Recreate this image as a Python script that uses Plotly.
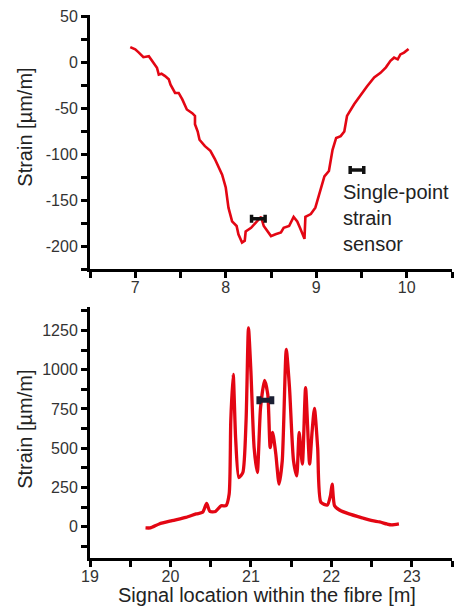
import plotly.graph_objects as go
from plotly.subplots import make_subplots

# Top panel: strain profile around 7-10 m
top_x = [6.945, 7.0, 7.04, 7.09, 7.15, 7.2, 7.24, 7.26, 7.29, 7.33, 7.37, 7.39, 7.44, 7.48,
         7.52, 7.57, 7.63, 7.66, 7.66, 7.69, 7.71, 7.77, 7.83, 7.88, 7.96, 8.0, 8.03, 8.07,
         8.12, 8.14, 8.18, 8.21, 8.22, 8.28, 8.33, 8.39, 8.42, 8.46, 8.50, 8.55, 8.61, 8.64,
         8.70, 8.75, 8.79, 8.82, 8.85, 8.87, 8.88, 8.94, 8.99, 9.05, 9.09, 9.14, 9.18, 9.22,
         9.27, 9.31, 9.34, 9.42, 9.49, 9.56, 9.64, 9.71, 9.77, 9.82, 9.86, 9.90, 9.93, 9.97, 10.02]
top_y = [17, 14.5, 11, 6, 7, 0, -5.5, -13, -12, -14.6, -18, -24, -33, -33,
         -40, -51, -55, -58, -67, -75, -84, -91, -96, -105, -122, -136, -158, -173,
         -178, -187, -196, -194, -184, -180, -174, -168, -178, -184, -189, -187, -185, -180,
         -178, -168, -173, -180, -187, -192, -168, -165, -158, -136, -124, -118, -95, -82,
         -80, -75, -58, -45, -35, -26, -16, -11, -5, 2, 5.5, 3.6, 9, 11, 15]

# Bottom panel: strain profile around 19.7-22.9 m
bot_x = [19.69, 19.75, 19.86, 20.02, 20.19, 20.32, 20.40, 20.45, 20.49, 20.56, 20.63, 20.69,
         20.73, 20.75, 20.78, 20.81, 20.85, 20.90, 20.94, 20.97, 21.00, 21.04, 21.08, 21.12,
         21.17, 21.21, 21.24, 21.27, 21.31, 21.35, 21.39, 21.44, 21.48, 21.53, 21.57, 21.60,
         21.64, 21.68, 21.73, 21.76, 21.79, 21.83, 21.87, 21.95, 21.99, 22.01, 22.04, 22.10,
         22.22, 22.39, 22.51, 22.60, 22.69, 22.75, 22.84]
bot_y = [-8, -8, 17, 38, 59, 81, 91, 148, 97, 97, 133, 133,
         208, 674, 971, 568, 313, 345, 674, 1267, 992, 504, 345, 758,
         932, 843, 504, 600, 462, 271, 420, 1130, 886, 420, 324, 600,
         399, 886, 399, 600, 754, 504, 155, 138, 200, 271, 133, 106,
         81, 55, 38, 30, 17, 11, 17]

# Tick labels
top_xticks = [7, 8, 9, 10]
top_yticks = [-200, -150, -100, -50, 0, 50]
bot_xticks = [19, 20, 21, 22, 23]
bot_yticks = [0, 250, 500, 750, 1000, 1250]

# Single-point strain sensor readings
sens_top_x = [8.36, 9.45]
sens_top_y = [-170, -117]
sens_bot_x = [21.18]
sens_bot_y = [805]
sens_err_top = [0.075, 0.075]
sens_err_bot = [0.08]

RED = "#e30613"
FONT = "Liberation Sans, Arial, sans-serif"

fig = make_subplots(rows=2, cols=1, vertical_spacing=0.07)
fig.add_trace(go.Scatter(x=top_x, y=top_y, mode="lines",
                         line=dict(color=RED, width=2.6), showlegend=False), row=1, col=1)
fig.add_trace(go.Scatter(x=bot_x, y=bot_y, mode="lines",
                         line=dict(color=RED, width=3.3, shape="spline", smoothing=0.6),
                         showlegend=False), row=2, col=1)
fig.add_trace(go.Scatter(x=sens_top_x, y=sens_top_y, mode="markers",
                         marker=dict(size=1, color="#111"),
                         error_x=dict(type="data", array=sens_err_top, color="#111",
                                      thickness=3.5, width=4),
                         showlegend=False), row=1, col=1)
fig.add_trace(go.Scatter(x=sens_bot_x, y=sens_bot_y, mode="markers",
                         marker=dict(size=1, color="#1b1f33"),
                         error_x=dict(type="data", array=sens_err_bot, color="#1b1f33",
                                      thickness=5, width=4),
                         showlegend=False), row=2, col=1)

axcommon = dict(showline=True, linecolor="black", linewidth=3, ticks="outside",
                ticklen=6, tickwidth=2.5, tickcolor="black", showgrid=False, zeroline=False,
                automargin=False,
                tickfont=dict(family=FONT, size=16, color="#333"), mirror=False)

fig.update_xaxes(**axcommon, ticklabelstandoff=-4)
fig.update_yaxes(**axcommon)

def lab(v):
    return str(v)  # plain hyphen-minus as in the reference

minor_style = dict(ticks="outside", ticklen=6, tickwidth=2.5, tickcolor="black")

fig.update_xaxes(range=[6.5, 10.5], tickvals=top_xticks, ticktext=[lab(v) for v in top_xticks],
                 minor=dict(dtick=0.5, tick0=6.5, **minor_style), domain=[0, 1], row=1, col=1)
fig.update_yaxes(range=[-225, 52], tickvals=top_yticks, ticktext=[lab(v) for v in top_yticks],
                 minor=dict(dtick=25, tick0=0, **minor_style), domain=[0.532, 1], row=1, col=1)
fig.update_xaxes(range=[19, 23.5], tickvals=bot_xticks, ticktext=[lab(v) for v in bot_xticks],
                 minor=dict(dtick=0.5, tick0=19, **minor_style), domain=[0, 1], row=2, col=1)
fig.update_yaxes(range=[-200, 1400], tickvals=bot_yticks, ticktext=[lab(v) for v in bot_yticks],
                 minor=dict(dtick=125, tick0=0, **minor_style), domain=[0, 0.4622], row=2, col=1)

ann = []
ann.append(dict(text="Strain [µm/m]", xref="paper", yref="paper", x=-0.18, y=0.794,
                textangle=-90, showarrow=False, xanchor="center", yanchor="middle",
                font=dict(family=FONT, size=20, color="#222")))
ann.append(dict(text="Strain [µm/m]", xref="paper", yref="paper", x=-0.18, y=0.2376,
                textangle=-90, showarrow=False, xanchor="center", yanchor="middle",
                font=dict(family=FONT, size=20, color="#222")))
ann.append(dict(text="Signal location within the fibre [m]", xref="paper", yref="paper",
                x=0.489, y=-0.0675, showarrow=False, xanchor="center", yanchor="middle",
                font=dict(family=FONT, size=20, color="#222")))
ann.append(dict(text="Single-point<br>strain<br>sensor", xref="x", yref="y", x=9.27, y=-169,
                showarrow=False, xanchor="left", yanchor="middle", align="left",
                font=dict(family=FONT, size=20, color="#222")))
fig.update_layout(annotations=ann)

# page body has an 8px margin, so the figure is sized/offset to compensate
fig.update_layout(width=462, height=598, margin=dict(l=82, r=18, t=7, b=48, autoexpand=False),
                  plot_bgcolor="white", paper_bgcolor="white")

fig.write_html("out.html")
